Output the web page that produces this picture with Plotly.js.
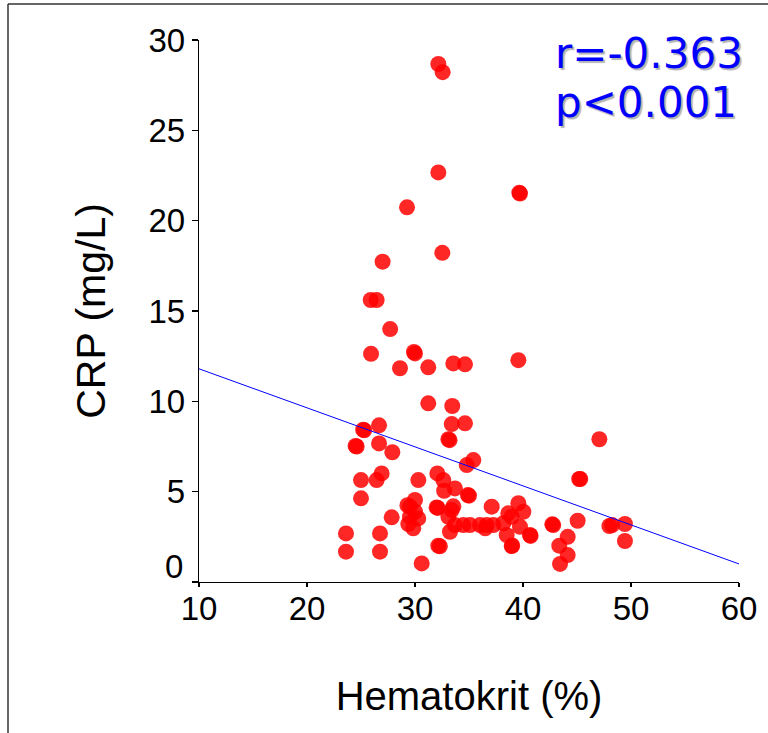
<!DOCTYPE html>
<html>
<head>
<meta charset="utf-8">
<script src="https://cdn.plot.ly/plotly-3.0.1.min.js"></script>
<style>
  html, body { margin: 0; padding: 0; background: #fff; }
  #chart { width: 768px; height: 733px; }
</style>
</head>
<body>
<div id="chart"></div>
<script>
// Hematokrit (%) values
var hematokrit = [
  32.16, 32.56, 32.16, 39.66, 39.72, 29.26, 32.53, 27.0, 25.9, 26.45,
  27.7, 25.93, 29.9, 30.0, 28.61, 31.23, 33.55, 34.63, 39.57, 31.23,
  33.45, 33.4, 34.63, 26.67, 25.2, 25.3, 33.09, 33.2, 24.5, 24.6,
  26.67, 27.9, 47.07, 34.79, 35.4, 26.91, 26.45, 25.0, 30.31, 32.07,
  32.62, 32.7, 33.7, 34.9, 35.0, 45.2, 45.3, 25.0, 30.0, 29.54,
  29.3, 32.0, 32.1, 33.4, 33.55, 37.1, 39.57, 40.03, 27.84, 29.54,
  30.0, 30.3, 33.09, 29.38, 29.84, 33.24, 33.7, 34.47, 35.09, 36.02,
  36.64, 37.25, 36.5, 38.18, 38.64, 38.95, 38.49, 39.72, 40.65, 40.7,
  38.95, 39.0, 32.16, 32.3, 30.62, 23.61, 23.61, 26.76, 26.76, 42.71,
  42.8, 45.06, 44.14, 43.36, 44.14, 43.43, 48.0, 48.25, 49.44, 49.44
];
// CRP (mg/L) values
var crp = [
  28.67, 28.22, 22.67, 21.55, 21.5, 20.74, 18.22, 17.73, 15.61, 15.61,
  14.0, 12.63, 12.73, 12.65, 11.83, 11.88, 12.1, 12.05, 12.28, 9.89,
  9.74, 8.74, 8.78, 8.67, 8.43, 8.4, 7.9, 7.85, 7.53, 7.5,
  7.67, 7.18, 7.9, 6.47, 6.75, 6.01, 5.64, 5.64, 5.64, 6.01,
  5.64, 5.05, 5.18, 4.81, 4.78, 5.7, 5.7, 4.63, 4.54, 4.17,
  4.25, 4.13, 4.1, 3.98, 4.19, 4.17, 4.36, 3.89, 3.58, 3.61,
  3.89, 3.52, 3.61, 3.21, 2.97, 2.78, 3.15, 3.15, 3.15, 3.15,
  3.15, 3.15, 2.97, 3.25, 3.8, 3.61, 2.6, 3.06, 2.6, 2.55,
  1.99, 2.02, 2.01, 1.98, 1.03, 2.69, 1.68, 2.69, 1.68, 3.19,
  3.15, 3.39, 2.5, 2.01, 1.49, 1.0, 3.1, 3.15, 3.21, 2.27
];
// Regression line end points
var fitX = [10, 60];
var fitY = [11.8, 1.0];

var xTicks = [10, 20, 30, 40, 50, 60];
var yTicks = [0, 5, 10, 15, 20, 25, 30];
var yTickText = ['', '5', '10', '15', '20', '25', '30'];

var statR = 'r=-0.363';
var statP = 'p<0.001';

var axisFont = {family: 'Liberation Sans, Arial, sans-serif', size: 33, color: '#000'};
var xTitleFont = {family: 'Liberation Sans, Arial, sans-serif', size: 40, color: '#000'};
var yTitleFont = {family: 'Liberation Sans, Arial, sans-serif', size: 41, color: '#000'};
var statFont = {family: 'DejaVu Sans, Verdana, sans-serif', size: 42, color: '#0000ff',
                shadow: '2px 2px 1px #b4b4b4'};

var traces = [
  {
    x: hematokrit, y: crp, type: 'scatter', mode: 'markers',
    marker: {symbol: 'circle', size: 16, color: 'rgba(255,0,0,0.85)', line: {width: 0}},
    hoverinfo: 'x+y', showlegend: false
  },
  {
    x: fitX, y: fitY, type: 'scatter', mode: 'lines',
    line: {color: '#0000ff', width: 1}, showlegend: false, hoverinfo: 'skip'
  }
];

function stat(text, y) {
  return {
    text: text, xref: 'paper', yref: 'paper', x: 0.656, y: y,
    xanchor: 'left', yanchor: 'middle', showarrow: false, font: statFont
  };
}

var layout = {
  width: 768, height: 733,
  margin: {l: 199, r: 29, t: 40, b: 151, pad: 0},
  paper_bgcolor: '#fff', plot_bgcolor: '#fff',
  showlegend: false,
  xaxis: {
    range: [10, 60], tickvals: xTicks, ticks: 'outside', ticklen: 4, tickwidth: 1.3,
    tickcolor: '#000', showline: true, linecolor: '#000', linewidth: 1.3,
    showgrid: false, zeroline: false, tickfont: axisFont, ticklabelstandoff: -7,
    title: {text: 'Hematokrit (%)', font: xTitleFont, standoff: 56}
  },
  yaxis: {
    range: [0, 30], tickvals: yTicks, ticktext: yTickText, ticks: 'outside', ticklen: 6,
    tickwidth: 1.3, tickcolor: '#000', showline: true, linecolor: '#000', linewidth: 1.3,
    showgrid: false, zeroline: false, tickfont: axisFont,
    title: {text: 'CRP (mg/L)', font: yTitleFont, standoff: 30}
  },
  annotations: [
    {text: '0', xref: 'paper', yref: 'y', x: 0, y: 0, xanchor: 'right', yanchor: 'middle',
     xshift: -14, yshift: 16, showarrow: false, font: axisFont},
    stat(statR, 0.976),
    stat(statP, 0.884)
  ],
  shapes: [
    {type: 'line', xref: 'paper', yref: 'paper', x0: -0.3537, x1: -0.3537, y0: -0.2786, y1: 1.0664,
     line: {color: '#333', width: 1.5}},
    {type: 'line', xref: 'paper', yref: 'paper', x0: -0.3537, x1: 1.0537, y0: 1.0664, y1: 1.0664,
     line: {color: '#333', width: 1.5}}
  ]
};

Plotly.newPlot('chart', traces, layout, {displayModeBar: false, staticPlot: true});
</script>
</body>
</html>
